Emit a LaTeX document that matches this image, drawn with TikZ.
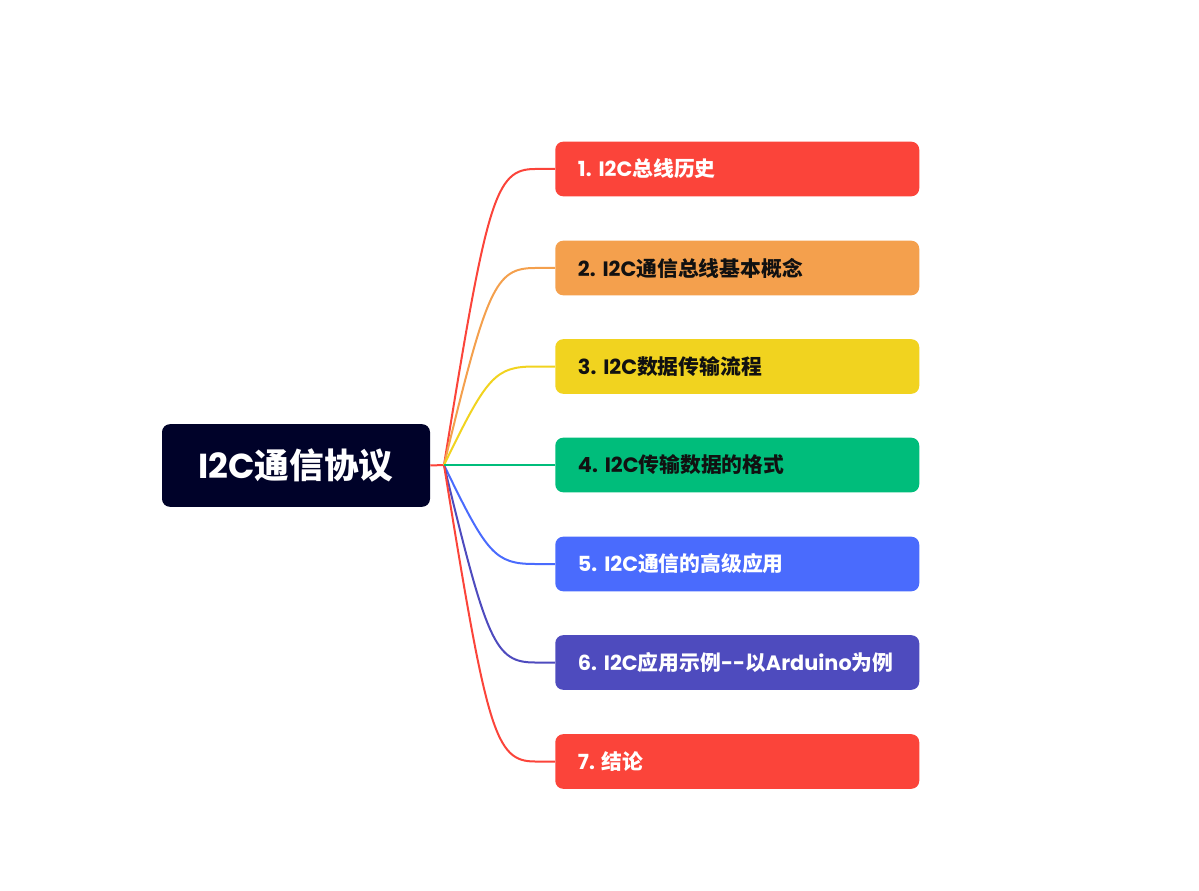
\documentclass[tikz,border=0pt]{standalone}
\usepackage{fontspec}
\setmainfont{Poppins}
\newfontfamily\cjk{Noto Sans CJK SC}
\usetikzlibrary{positioning,calc}
\newcommand{\zh}[1]{{\cjk #1}}
\frenchspacing
\definecolor{clrN}{RGB}{0,2,41}
\definecolor{clrR}{RGB}{251,68,58}
\definecolor{clrO}{RGB}{244,160,77}
\definecolor{clrY}{RGB}{241,211,31}
\definecolor{clrG}{RGB}{0,189,123}
\definecolor{clrB}{RGB}{74,107,253}
\definecolor{clrP}{RGB}{78,75,190}
\definecolor{clrT}{RGB}{17,17,17}
\tikzset{
  root/.style={rectangle,rounded corners=6pt,fill=clrN,text=white,
    font=\fontsize{26}{30}\selectfont\bfseries,minimum width=201pt,minimum height=62pt,inner sep=0pt},
  topic/.style={rectangle,rounded corners=6pt,anchor=west,minimum width=273pt,minimum height=41pt,
    text width=239pt,align=left,inner xsep=17pt,inner ysep=0pt,font=\fontsize{15.6}{19}\selectfont\bfseries},
  link/.style={line width=1.5pt}
}

\begin{document}
\begin{tikzpicture}[x=0.75pt,y=-0.75pt]
  \useasboundingbox (0,0) rectangle (1199,891);
  \node[root] (rt) at (296,465.5) {I2C\zh{通信协议}};
  \coordinate (hub) at (444,465);
  \node[topic,fill=clrR,text=white] (t1) at (555,169) {1. I2C\zh{总线历史}};
  \node[topic,fill=clrO,text=clrT] (t2) at (555,268) {2. I2C\zh{通信总线基本概念}};
  \node[topic,fill=clrY,text=clrT] (t3) at (555,366.5) {3. I2C\zh{数据传输流程}};
  \node[topic,fill=clrG,text=clrT] (t4) at (555,465) {4. I2C\zh{传输数据的格式}};
  \node[topic,fill=clrB,text=white] (t5) at (555,564) {5. I2C\zh{通信的高级应用}};
  \node[topic,fill=clrP,text=white] (t6) at (555,662.5)
    {\mbox{6. I2C\zh{应用示例}-\kern0pt-\zh{以}Arduino\zh{为例}}};
  \node[topic,fill=clrR,text=white] (t7) at (555,761.5) {7. \zh{结论}};
  % branches
  \draw[link,clrR] (rt.east) -- (hub);
  \foreach \i/\c in {1/clrR,2/clrO,3/clrY,5/clrB,6/clrP,7/clrR}
    \draw[link,\c] (hub) .. controls ($(hub)!0.9!(hub |- t\i.west)+(43,0)$)
      and ($(t\i.west)+(-60,0)$) .. ($(t\i.west)+(-20,0)$) -- (t\i.west);
  \draw[link,clrG] (hub) -- (t4.west);
\end{tikzpicture}
\end{document}
